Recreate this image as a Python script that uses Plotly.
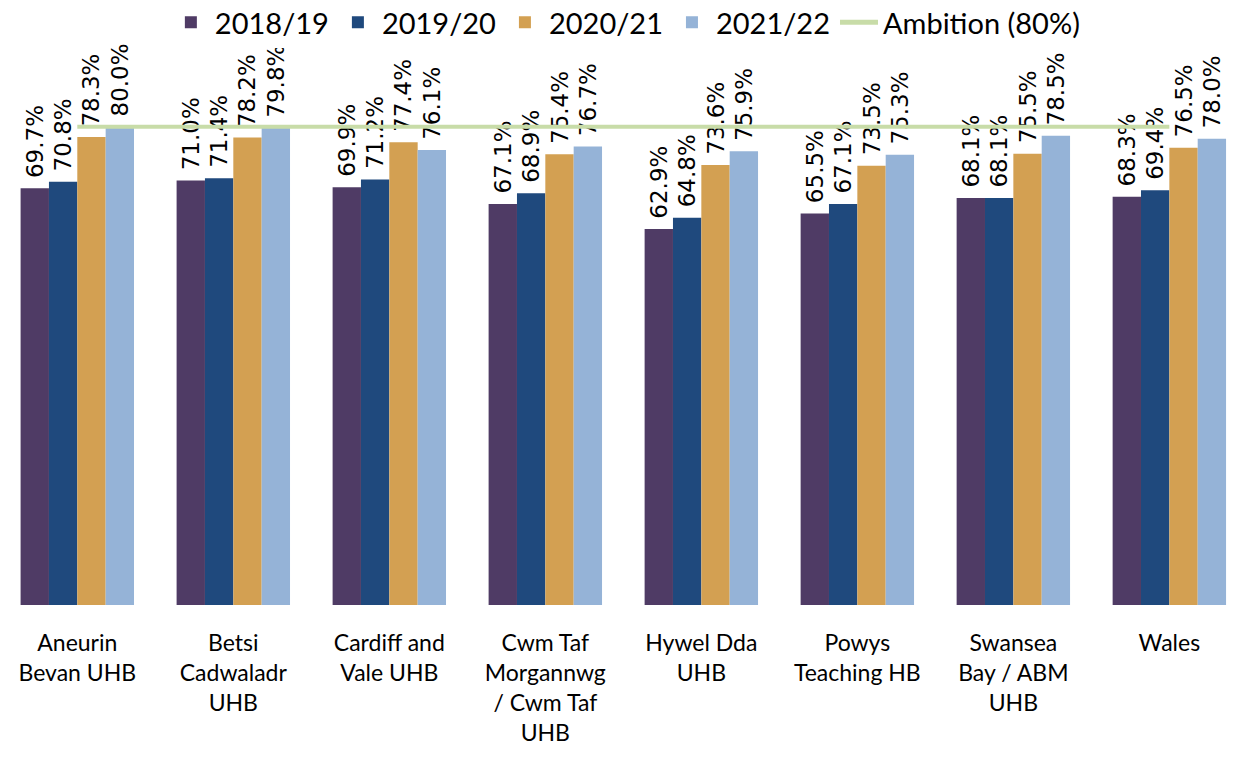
import plotly.graph_objects as go

categories = [
    "Aneurin<br>Bevan UHB",
    "Betsi<br>Cadwaladr<br>UHB",
    "Cardiff and<br>Vale UHB",
    "Cwm Taf<br>Morgannwg<br>/ Cwm Taf<br>UHB",
    "Hywel Dda<br>UHB",
    "Powys<br>Teaching HB",
    "Swansea<br>Bay / ABM<br>UHB",
    "Wales",
]
s2018_19 = [69.7, 71.0, 69.9, 67.1, 62.9, 65.5, 68.1, 68.3]
s2019_20 = [70.8, 71.4, 71.2, 68.9, 64.8, 67.1, 68.1, 69.4]
s2020_21 = [78.3, 78.2, 77.4, 75.4, 73.6, 73.5, 75.5, 76.5]
s2021_22 = [80.0, 79.8, 76.1, 76.7, 75.9, 75.3, 78.5, 78.0]
ambition = [80, 80, 80, 80, 80, 80, 80, 80]

series = [
    ("2018/19", s2018_19, "#4F3B65"),
    ("2019/20", s2019_20, "#1F497D"),
    ("2020/21", s2020_21, "#D3A052"),
    ("2021/22", s2021_22, "#95B3D7"),
]

fig = go.Figure()
for name, vals, color in series:
    fig.add_trace(go.Bar(
        x=categories, y=vals, name=name,
        marker=dict(color=color, line=dict(width=0)),
        texttemplate="\u00a0%{y:.1f}%",
        textposition="outside",
        textangle=-90,
        constraintext="none",
        cliponaxis=False,
        textfont=dict(family="DejaVu Sans", size=23, color="#000000"),
    ))

fig.add_trace(go.Scatter(
    x=categories, y=ambition, name="Ambition (80%)",
    mode="lines", line=dict(color="#C8DCA8", width=4),
    cliponaxis=False,
))

fig.update_layout(
    width=1233, height=765,
    margin=dict(l=0, r=0, t=67, b=160, autoexpand=False),
    paper_bgcolor="white", plot_bgcolor="white",
    barmode="group", bargap=0.273, bargroupgap=0,
    font=dict(family="Lato", size=23, color="#000000"),
    showlegend=True,
    legend=dict(
        orientation="h", x=0.508, xanchor="center", y=1.083, yanchor="middle",
        font=dict(family="Lato", size=29, color="#000000"),
        itemwidth=38, tracegroupgap=0, itemsizing="constant",
    ),
    xaxis=dict(
        range=[-0.4955, 7.408], showgrid=False, showline=False, zeroline=False,
        ticks="", ticklabelstandoff=22, tickfont=dict(family="Lato", size=23),
        automargin=False,
    ),
    yaxis=dict(
        range=[0, 90], visible=False, showgrid=False, zeroline=False,
        automargin=False,
    ),
)

fig.write_html(
    "out.html",
    config={"displayModeBar": False},
    post_script="document.body.style.margin='0';document.body.style.overflow='hidden';",
)
